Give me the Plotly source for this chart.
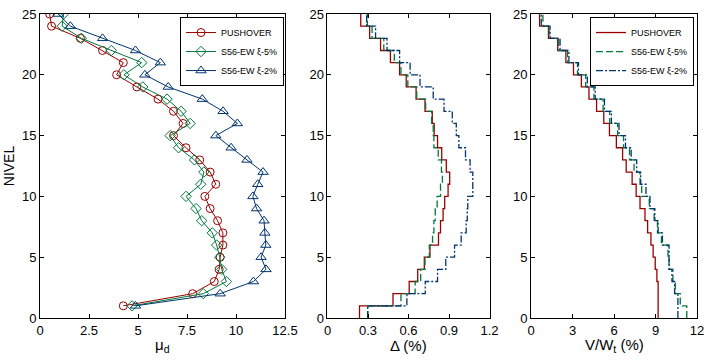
import plotly.graph_objects as go
from plotly.subplots import make_subplots

# ---------------- data ----------------
levels = list(range(1, 26))
names = ["PUSHOVER", "S56-EW ξ-5%", "S56-EW ξ-2%"]

# ductility demand per level (left panel)
mu_push = [4.25, 7.79, 8.89, 9.14, 9.19, 9.33, 9.33, 9.06, 8.68, 8.41, 8.97, 8.68, 8.15,
           7.45, 6.81, 7.30, 6.81, 6.02, 4.94, 3.91, 4.25, 3.19, 2.06, 0.59, 0.49]
mu_xi5 = [4.70, 8.33, 9.51, 9.27, 9.17, 9.01, 8.79, 8.25, 7.96, 7.45, 8.20, 8.36, 7.88,
          7.07, 6.64, 7.66, 7.20, 6.48, 5.24, 4.28, 5.19, 3.64, 2.11, 1.13, 1.20]
mu_xi2 = [4.87, 9.19, 10.89, 11.53, 11.28, 11.52, 11.47, 11.43, 11.05, 10.86, 11.11, 11.38, 10.56,
          9.75, 8.97, 10.07, 9.34, 8.28, 6.54, 5.35, 6.14, 4.87, 3.19, 1.55, 0.93]

# inter-storey drift (%) per storey (middle panel)
drift_push = [0.237, 0.485, 0.605, 0.668, 0.717, 0.759, 0.822, 0.837, 0.856, 0.868, 0.893, 0.905, 0.880,
              0.846, 0.815, 0.790, 0.776, 0.722, 0.656, 0.583, 0.534, 0.466, 0.393, 0.312, 0.246]
drift_xi5 = [0.298, 0.544, 0.649, 0.690, 0.722, 0.754, 0.778, 0.788, 0.798, 0.812, 0.837, 0.851, 0.844,
             0.820, 0.788, 0.783, 0.771, 0.727, 0.661, 0.595, 0.544, 0.495, 0.417, 0.330, 0.295]
drift_xi2 = [0.298, 0.588, 0.724, 0.815, 0.876, 0.941, 0.990, 1.027, 1.035, 1.039, 1.076, 1.076, 1.056,
             1.022, 0.973, 0.954, 0.924, 0.863, 0.783, 0.685, 0.612, 0.534, 0.441, 0.356, 0.290]

# storey shear V/Wt (%) per storey (right panel)
shear_push = [9.19, 9.19, 9.19, 9.10, 8.98, 8.83, 8.67, 8.43, 8.24, 7.88, 7.60, 7.31, 6.88,
              6.62, 6.17, 5.67, 5.26, 4.74, 4.19, 3.64, 3.07, 2.52, 1.93, 1.26, 0.62]
shear_xi5 = [11.26, 10.79, 10.43, 10.26, 9.98, 9.90, 9.43, 9.14, 8.90, 8.55, 8.00, 7.88, 7.45,
             7.12, 6.69, 6.26, 5.69, 5.21, 4.55, 3.95, 3.36, 2.64, 2.00, 1.31, 0.86]
shear_xi2 = [10.62, 10.62, 10.38, 10.19, 9.98, 9.98, 9.50, 9.19, 8.95, 8.60, 8.31, 7.93, 7.64,
             7.24, 6.83, 6.36, 5.81, 5.31, 4.64, 4.07, 3.43, 2.74, 2.10, 1.38, 0.74]

x_titles = ["μ<sub>d</sub>", "Δ (%)", "V/W<sub>t</sub> (%)"]
y_title = "NIVEL"

colors = ["#9B0000", "#00783C", "#00346E"]
dashes = ["solid", "7px,3px", "7px,2px,2px,2px"]
symbols = ["circle-open", "diamond-open", "triangle-up-open"]
msizes = [8, 8, 9]

FONT = "Liberation Sans, Arial, sans-serif"

fig = make_subplots(rows=1, cols=3)

# left panel: lines + markers
for vals, nm, c, s, ms in zip([mu_push, mu_xi5, mu_xi2], names, colors, symbols, msizes):
    fig.add_trace(go.Scatter(x=vals, y=levels, mode="lines+markers", name=nm,
                             line=dict(color=c, width=1),
                             marker=dict(symbol=s, size=ms, color=c, line=dict(color=c, width=1)),
                             legend="legend"), row=1, col=1)

def stair(vals):
    xs = list(vals) + [vals[-1]]
    ys = [l - 1 for l in levels] + [levels[-1]]
    return xs, ys

for vals, nm, c, d in zip([drift_push, drift_xi5, drift_xi2], names, colors, dashes):
    xs, ys = stair(vals)
    fig.add_trace(go.Scatter(x=xs, y=ys, mode="lines", name=nm, line_shape="vh",
                             line=dict(color=c, width=1.3, dash=d), showlegend=False),
                  row=1, col=2)

for vals, nm, c, d in zip([shear_push, shear_xi5, shear_xi2], names, colors, dashes):
    xs, ys = stair(vals)
    fig.add_trace(go.Scatter(x=xs, y=ys, mode="lines", name=nm, line_shape="vh",
                             line=dict(color=c, width=1.3, dash=d), legend="legend2"),
                  row=1, col=3)

L, R = 40, 12
W = 717 - L - R
def dom(a, b):
    return [(a - L) / W, (b - L) / W]

doms = [dom(40, 288), dom(331, 495), dom(537, 705)]

axis_common = dict(showline=True, linecolor="black", linewidth=1, mirror="ticks",
                   ticks="inside", ticklen=4, tickcolor="black", showgrid=False, zeroline=False,
                   tickfont=dict(family=FONT, size=13, color="black"))

fig.update_xaxes(**axis_common)
fig.update_yaxes(**axis_common, range=[0, 25], tickvals=[0, 5, 10, 15, 20, 25])

fig.update_layout(
    xaxis=dict(domain=doms[0], range=[0, 12.5], tickvals=[0, 2.5, 5, 7.5, 10, 12.5],
               ticktext=["0", "2.5", "5", "7.5", "10", "12.5"]),
    xaxis2=dict(domain=doms[1], range=[0, 1.2], tickvals=[0, 0.3, 0.6, 0.9, 1.2],
                ticktext=["0", "0.3", "0.6", "0.9", "1.2"]),
    xaxis3=dict(domain=doms[2], range=[0, 12], tickvals=[0, 3, 6, 9, 12]),
    yaxis=dict(title=dict(text=y_title, font=dict(family=FONT, size=14, color="black"), standoff=4)),
    width=717, height=360,
    margin=dict(l=L, r=R, t=7, b=42),
    paper_bgcolor="white", plot_bgcolor="white",
    font=dict(family=FONT, size=13, color="black"),
    legend=dict(x=(287 - L) / W, xanchor="right", y=0.99, yanchor="top",
                bgcolor="white", bordercolor="black", borderwidth=1,
                font=dict(family=FONT, size=9, color="black"), tracegroupgap=0),
    legend2=dict(x=(702 - L) / W, xanchor="right", y=0.99, yanchor="top",
                 bgcolor="white", bordercolor="black", borderwidth=1,
                 font=dict(family=FONT, size=9, color="black"), tracegroupgap=0),
)

for t, d in zip(x_titles, doms):
    fig.add_annotation(text=t, xref="paper", yref="paper", x=(d[0] + d[1]) / 2, y=-28 / 311,
                       xanchor="center", yanchor="middle", showarrow=False,
                       font=dict(family=FONT, size=15, color="black"))

fig.write_html("out.html", post_script="document.body.style.margin='0';",
               config={"displayModeBar": False})
